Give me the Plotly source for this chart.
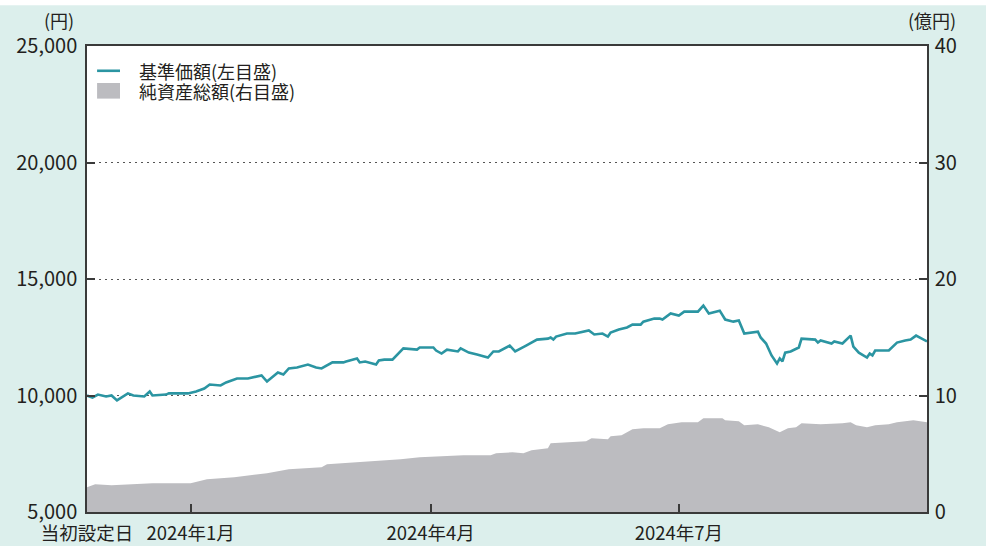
import plotly.graph_objects as go

# ---- data ----
nav_dates = [
    "2023-11-27", "2023-11-29", "2023-12-01", "2023-12-04", "2023-12-06", "2023-12-08",
    "2023-12-12", "2023-12-14", "2023-12-18", "2023-12-20", "2023-12-21", "2023-12-26",
    "2023-12-27", "2024-01-03", "2024-01-06", "2024-01-09", "2024-01-11", "2024-01-15",
    "2024-01-17", "2024-01-21", "2024-01-25", "2024-01-27", "2024-01-30", "2024-02-01",
    "2024-02-05", "2024-02-07", "2024-02-09", "2024-02-12", "2024-02-16", "2024-02-19",
    "2024-02-21", "2024-02-25", "2024-02-29", "2024-03-01", "2024-03-05", "2024-03-06",
    "2024-03-08", "2024-03-12", "2024-03-13", "2024-03-15", "2024-03-18", "2024-03-22",
    "2024-03-26", "2024-03-27", "2024-03-28", "2024-04-02", "2024-04-03", "2024-04-05",
    "2024-04-07", "2024-04-11", "2024-04-12", "2024-04-15", "2024-04-18", "2024-04-22",
    "2024-04-24", "2024-04-26", "2024-04-30", "2024-05-02", "2024-05-06", "2024-05-10",
    "2024-05-14", "2024-05-15", "2024-05-16", "2024-05-17", "2024-05-21", "2024-05-24",
    "2024-05-29", "2024-05-30", "2024-05-31", "2024-06-03", "2024-06-05", "2024-06-06",
    "2024-06-09", "2024-06-12", "2024-06-14", "2024-06-17", "2024-06-18", "2024-06-22",
    "2024-06-24", "2024-06-25", "2024-06-28", "2024-07-01", "2024-07-03", "2024-07-08",
    "2024-07-10", "2024-07-12", "2024-07-16", "2024-07-18", "2024-07-21", "2024-07-23",
    "2024-07-25", "2024-07-30", "2024-07-31", "2024-08-02", "2024-08-04", "2024-08-06",
    "2024-08-07", "2024-08-08", "2024-08-09", "2024-08-11", "2024-08-14", "2024-08-15",
    "2024-08-20", "2024-08-21", "2024-08-22", "2024-08-26", "2024-08-27", "2024-08-30",
    "2024-09-02", "2024-09-03", "2024-09-05", "2024-09-08", "2024-09-09", "2024-09-10",
    "2024-09-11", "2024-09-16", "2024-09-19", "2024-09-22", "2024-09-24", "2024-09-26",
    "2024-09-30",
]
nav_values = [
    10000, 9910, 10040, 9960, 10000, 9790,
    10090, 10000, 9960, 10170, 10000, 10040,
    10090, 10090, 10170, 10300, 10470, 10430,
    10560, 10730, 10730, 10770, 10860, 10600,
    10990, 10900, 11160, 11200, 11330, 11200,
    11160, 11420, 11420, 11460, 11590, 11420,
    11460, 11330, 11500, 11540, 11540, 12020,
    11970, 11970, 12060, 12060, 11930, 11800,
    11970, 11890, 12020, 11840, 11760, 11630,
    11890, 11890, 12140, 11890, 12140, 12400,
    12440, 12490, 12400, 12530, 12660, 12660,
    12790, 12700, 12620, 12660, 12530, 12700,
    12830, 12920, 13040, 13040, 13170, 13300,
    13300, 13260, 13520, 13430, 13600, 13600,
    13860, 13520, 13640, 13260, 13170, 13220,
    12660, 12740, 12490, 12230, 11720, 11370,
    11590, 11460, 11840, 11890, 12060, 12440,
    12400, 12270, 12360, 12230, 12320, 12230,
    12570, 12100, 11840, 11630, 11800, 11720,
    11930, 11930, 12270, 12360, 12400, 12570,
    12320,
]

asset_dates = [
    "2023-11-27", "2023-11-30", "2023-12-06", "2023-12-21", "2024-01-04", "2024-01-10",
    "2024-01-20", "2024-02-01", "2024-02-09", "2024-02-21", "2024-02-23", "2024-03-05",
    "2024-03-13", "2024-03-21", "2024-03-28", "2024-04-04", "2024-04-13", "2024-04-23",
    "2024-04-25", "2024-05-01", "2024-05-05", "2024-05-08", "2024-05-14", "2024-05-15",
    "2024-05-28", "2024-05-30", "2024-06-05", "2024-06-06", "2024-06-10", "2024-06-14",
    "2024-06-18", "2024-06-24", "2024-06-27", "2024-07-02", "2024-07-08", "2024-07-10",
    "2024-07-17", "2024-07-18", "2024-07-23", "2024-07-25", "2024-07-30", "2024-08-03",
    "2024-08-07", "2024-08-10", "2024-08-13", "2024-08-15", "2024-08-22", "2024-08-30",
    "2024-09-02", "2024-09-04", "2024-09-08", "2024-09-11", "2024-09-16", "2024-09-19",
    "2024-09-25", "2024-09-30",
]
asset_values = [
    2.13, 2.38, 2.30, 2.47, 2.47, 2.81,
    2.98, 3.33, 3.67, 3.84, 4.10, 4.27,
    4.36, 4.53, 4.70, 4.79, 4.87, 4.87,
    5.04, 5.13, 5.04, 5.30, 5.47, 5.90,
    6.07, 6.33, 6.24, 6.50, 6.59, 7.10,
    7.19, 7.19, 7.53, 7.70, 7.70, 8.04,
    8.04, 7.87, 7.79, 7.44, 7.53, 7.27,
    6.84, 7.19, 7.27, 7.62, 7.53, 7.62,
    7.70, 7.44, 7.27, 7.44, 7.53, 7.70,
    7.87, 7.70,
]

x_tick_dates = ["2023-11-27", "2024-01-04", "2024-04-01", "2024-07-01"]
x_tick_labels = ["当初設定日", "2024年1月", "2024年4月", "2024年7月"]
y_left_ticks = [5000, 10000, 15000, 20000, 25000]
y_right_ticks = [0, 10, 20, 30, 40]
legend_labels = ["基準価額(左目盛)", "純資産総額(右目盛)"]
unit_left = "(円)"
unit_right = "(億円)"

# ---- style ----
FONT = "Noto Sans CJK JP"
TXT = "#231f20"
TEAL = "#2b95a2"
GRAY = "#bcbcc0"
BG = "#dcefec"
FRAME = "#3a3a3a"

fig = go.Figure()
fig.add_trace(go.Scatter(
    x=asset_dates, y=asset_values, yaxis="y2", mode="lines",
    line=dict(width=0, color=GRAY), fill="tozeroy", fillcolor=GRAY,
    showlegend=False, hoverinfo="skip"))
fig.add_trace(go.Scatter(
    x=nav_dates, y=nav_values, mode="lines",
    line=dict(width=2.6, color=TEAL), showlegend=False))

fig.update_layout(
    width=986, height=546,
    margin=dict(l=87, r=59, t=46, b=34, autoexpand=False),
    paper_bgcolor=BG, plot_bgcolor="white",
    font=dict(family=FONT, color=TXT, size=19),
    xaxis=dict(
        type="date", range=["2023-11-27", "2024-09-30"],
        tickvals=x_tick_dates, ticktext=x_tick_labels,
        ticks="inside", ticklen=8, tickwidth=1.5, tickcolor=FRAME,
        showline=True, linecolor=FRAME, linewidth=1.5, mirror=True,
        showgrid=False, zeroline=False, tickfont=dict(size=18.5),
        ticklabelstandoff=4, automargin=False,
    ),
    yaxis=dict(
        range=[5000, 25000], tickvals=y_left_ticks, tickformat=",",
        ticks="inside", ticklen=8, tickwidth=1.5, tickcolor=FRAME,
        showline=True, linecolor=FRAME, linewidth=1.5, mirror=True,
        showgrid=True, gridcolor="#555555", gridwidth=1.3, griddash="1.5px,4.5px",
        zeroline=False, tickfont=dict(size=20), ticklabelstandoff=4,
        automargin=False,
    ),
    yaxis2=dict(
        range=[0, 40], tickvals=y_right_ticks, overlaying="y", side="right",
        ticks="inside", ticklen=8, tickwidth=1.5, tickcolor=FRAME,
        showline=True, linecolor=FRAME, linewidth=1.5,
        showgrid=False, zeroline=False, tickfont=dict(size=20), ticklabelstandoff=2,
        automargin=False,
    ),
    showlegend=False,
)

# thin white strip at the very top of the picture
fig.add_shape(type="rect", xref="paper", yref="paper",
              x0=-0.11, x1=1.08, y0=1.0876, y1=1.11,
              line=dict(width=0), fillcolor="white", layer="above")

# manual legend keys (paper coordinates)
fig.add_shape(type="line", xref="paper", yref="paper",
              x0=0.012, x1=0.0393, y0=0.9468, y1=0.9468,
              line=dict(color=TEAL, width=2.6))
fig.add_shape(type="rect", xref="paper", yref="paper",
              x0=0.012, x1=0.0393, y0=0.8871, y1=0.9206,
              line=dict(width=0), fillcolor=GRAY)
fig.add_annotation(xref="paper", yref="paper", x=0.0595, y=0.9468,
                   text=legend_labels[0], showarrow=False,
                   xanchor="left", yanchor="middle", font=dict(size=18))
fig.add_annotation(xref="paper", yref="paper", x=0.0595, y=0.9028,
                   text=legend_labels[1], showarrow=False,
                   xanchor="left", yanchor="middle", font=dict(size=18))
fig.add_annotation(xref="paper", yref="paper", x=-0.0131, y=1.055,
                   text=unit_left, showarrow=False,
                   xanchor="right", yanchor="middle", font=dict(size=18))
fig.add_annotation(xref="paper", yref="paper", x=1.006, y=1.055,
                   text=unit_right, showarrow=False,
                   xanchor="center", yanchor="middle", font=dict(size=18))

fig.write_html("out.html", config={"displayModeBar": False},
               post_script="document.body.style.margin='0';document.body.style.overflow='hidden';")
